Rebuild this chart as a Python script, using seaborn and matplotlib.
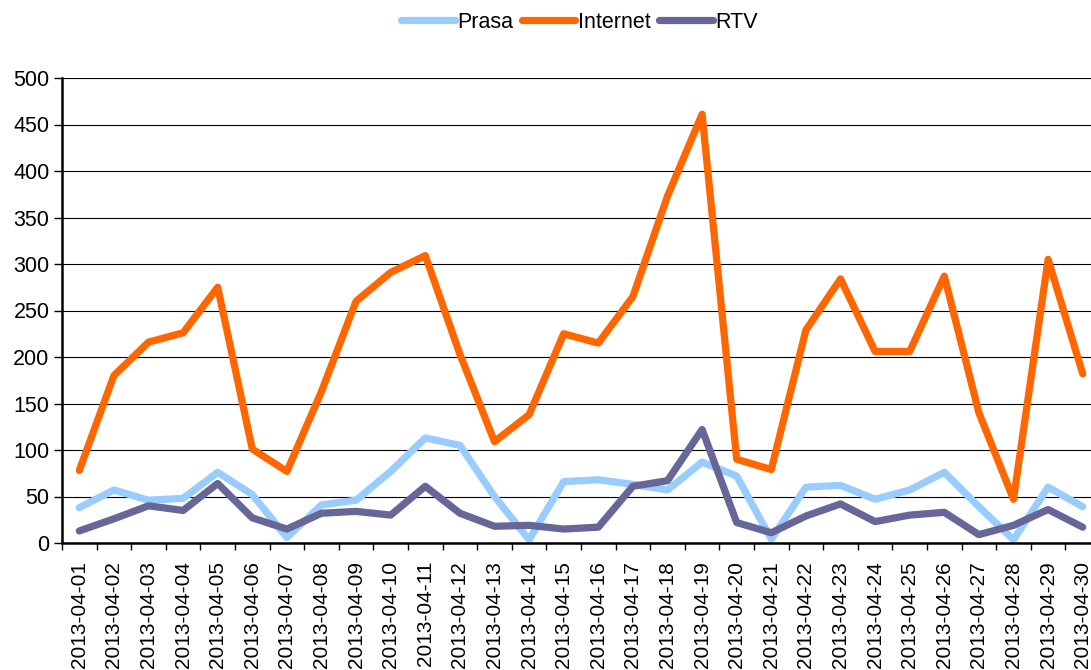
import pandas as pd
import matplotlib
matplotlib.use("Agg")
import matplotlib.pyplot as plt
from matplotlib.ticker import FixedLocator, NullFormatter
import seaborn as sns

# Data
dates = [f"2013-04-{d:02d}" for d in range(1, 31)]
prasa = [38, 57, 46, 48, 76, 52, 6, 41, 46, 77, 113, 105, 50, 3.5, 66,
         68, 63, 57, 87, 72, 4, 60, 62, 47, 57, 76, 39, 3.5, 60, 39]
internet = [78, 180, 216, 226, 275, 101, 77, 163, 260, 291, 309, 203, 109, 138, 225,
            215, 265, 373, 461, 90, 79, 229, 284, 206, 206, 287, 140, 47, 305, 182]
rtv = [13, 26, 40, 35, 64, 27, 15, 32, 34, 30, 61, 32, 18, 19, 15,
       17, 61, 67, 122, 22, 11, 29, 42, 23, 30, 33, 9, 19, 36, 17]

series_names = ["Prasa", "Internet", "RTV"]
colors = {"Prasa": "#99CCFF", "Internet": "#FF6600", "RTV": "#666699"}

# Long-form table for seaborn
frames = []
for name, vals in zip(series_names, [prasa, internet, rtv]):
    frames.append(pd.DataFrame({"idx": range(len(dates)), "date": dates,
                                "value": vals, "series": name}))
df = pd.concat(frames, ignore_index=True)

sns.set_style("white")
plt.rcParams['font.family'] = ['Liberation Sans', 'DejaVu Sans']
plt.rcParams['text.color'] = 'black'
plt.rcParams['xtick.color'] = 'black'
plt.rcParams['ytick.color'] = 'black'

fig = plt.figure(figsize=(10.91, 6.70), dpi=100)
# plot area runs slightly past the right edge, like the reference
ax = fig.add_axes([62 / 1091, 127 / 670, 1038 / 1091, 465 / 670])

sns.lineplot(data=df, x="idx", y="value", hue="series", hue_order=series_names,
             palette=colors, linewidth=5.2, ax=ax, legend=True,
             solid_capstyle="round", solid_joinstyle="round")

ax.set_xlim(-0.5, len(dates) - 0.5)
ax.set_ylim(0, 500)
ax.set_yticks(range(0, 501, 50))
ax.set_xlabel("")
ax.set_ylabel("")

# category labels at centers, tick marks at slot boundaries
ax.set_xticks(range(len(dates)))
ax.set_xticklabels(dates, rotation=90, fontsize=15)
ax.xaxis.set_minor_locator(FixedLocator([i - 0.5 for i in range(len(dates) + 1)]))
ax.xaxis.set_minor_formatter(NullFormatter())
ax.tick_params(axis="x", which="major", length=0, pad=13, labelcolor="black")
ax.tick_params(axis="x", which="minor", length=5, width=1, color="black", direction="out", bottom=True)
ax.tick_params(axis="y", length=6, width=1, color="black", direction="out", left=True,
               labelsize=15.5, pad=3, labelcolor="black")

ax.yaxis.grid(True, color="black", linewidth=0.8)
ax.xaxis.grid(False)
ax.set_axisbelow(True)
for side in ["top", "right"]:
    ax.spines[side].set_visible(False)
for side in ["left", "bottom"]:
    ax.spines[side].set_color("black")
    ax.spines[side].set_linewidth(1.8)
    ax.spines[side].set_zorder(5)

handles, labels = ax.get_legend_handles_labels()
ax.legend_.remove()
leg = fig.legend(handles, labels, loc="center", bbox_to_anchor=(0.531, 0.967), ncol=3,
                 frameon=False, fontsize=15.5, handlelength=2.5, handletextpad=0.1,
                 columnspacing=0.4)
for t in leg.get_texts():
    t.set_color("black")

fig.savefig("out.png", dpi=100)
